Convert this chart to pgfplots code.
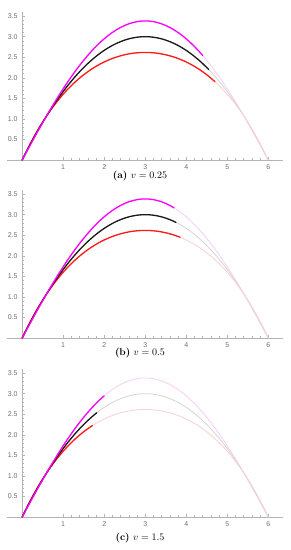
\documentclass[border=0pt]{standalone}
\usepackage{fontspec}
\usepackage{pgfplots}
\pgfplotsset{compat=1.18}
\usepackage{pgfplotstable}
\newfontfamily\ticksf{Liberation Sans}
\definecolor{axgray}{HTML}{B4B4B4}
\definecolor{labgray}{HTML}{707070}
\definecolor{cmag}{HTML}{FF00FF}
\definecolor{cred}{HTML}{FF1A1A}
\definecolor{cblk}{HTML}{1A1A1A}
\definecolor{fmag}{HTML}{F8CCF8}
\definecolor{fred}{HTML}{FAD0D0}
\definecolor{fblk}{HTML}{D4D4D4}

\pgfplotstableread{
x b m r
0.0 0 0 0
0.1 0.197 0.185 0.208
0.2 0.387 0.369 0.404
0.3 0.570 0.552 0.588
0.4 0.747 0.731 0.762
0.5 0.917 0.908 0.925
0.6 1.080 1.081 1.079
0.7 1.237 1.251 1.222
0.8 1.387 1.416 1.357
0.9 1.530 1.577 1.483
1.0 1.667 1.733 1.600
1.1 1.797 1.884 1.710
1.2 1.920 2.029 1.811
1.3 2.037 2.168 1.906
1.4 2.147 2.300 1.993
1.5 2.250 2.426 2.074
1.6 2.347 2.545 2.148
1.7 2.437 2.657 2.216
1.8 2.520 2.762 2.278
1.9 2.597 2.859 2.334
2.0 2.667 2.949 2.385
2.1 2.730 3.030 2.430
2.2 2.787 3.103 2.470
2.3 2.837 3.168 2.505
2.4 2.880 3.225 2.535
2.5 2.917 3.273 2.560
2.6 2.947 3.313 2.581
2.7 2.970 3.343 2.597
2.8 2.987 3.366 2.608
2.9 2.997 3.379 2.615
3.0 3.000 3.383 2.617
3.1 2.997 3.379 2.615
3.2 2.987 3.366 2.608
3.3 2.970 3.343 2.597
3.4 2.947 3.313 2.581
3.5 2.917 3.273 2.560
3.6 2.880 3.225 2.535
3.7 2.837 3.168 2.505
3.8 2.787 3.103 2.470
3.9 2.730 3.030 2.430
4.0 2.667 2.949 2.385
4.1 2.597 2.859 2.334
4.2 2.520 2.762 2.278
4.3 2.437 2.657 2.216
4.4 2.347 2.545 2.148
4.5 2.250 2.426 2.074
4.6 2.147 2.300 1.993
4.7 2.037 2.168 1.906
4.8 1.920 2.029 1.811
4.9 1.797 1.884 1.710
5.0 1.667 1.733 1.600
5.1 1.530 1.577 1.483
5.2 1.387 1.416 1.357
5.3 1.237 1.251 1.222
5.4 1.080 1.081 1.079
5.5 0.917 0.908 0.925
5.6 0.747 0.731 0.762
5.7 0.570 0.552 0.588
5.8 0.387 0.369 0.404
5.9 0.197 0.185 0.208
6.0 0 0 0
}\traj

\pgfplotsset{
  panel/.style={
    scale only axis, width=276pt, height=148pt,
    xmin=-0.37, xmax=6.36, ymin=0, ymax=3.6,
    axis x line=middle, axis y line=middle,
    axis line style={draw=axgray, line width=0.5pt, -},
    xtick={1,2,3,4,5,6}, ytick={0.5,1,1.5,2,2.5,3,3.5},
    minor x tick num=4, minor y tick num=4,
    tick align=inside,
    major tick length=3pt, minor tick length=1.6pt,
    every tick/.style={draw=axgray, line width=0.4pt},
    every minor tick/.style={draw=axgray, line width=0.35pt},
    ticklabel style={font=\ticksf\fontsize{7}{8}\selectfont, text=labgray},
    /pgf/number format/assume math mode=true,
    y tick label style={/pgf/number format/fixed, /pgf/number format/fixed zerofill, /pgf/number format/precision=1},
    xticklabel style={yshift=-1pt},
    yticklabel style={xshift=-1pt},
    clip=false,
  },
  fadedline/.style={line width=0.8pt, line join=round},
  solidline/.style={line width=1.3pt, line join=round, line cap=round},
}

\begin{document}
\begin{tikzpicture}
\path (0pt,0pt) rectangle (291pt,-550pt);

% (a)
\begin{axis}[panel, at={(7pt,-160pt)}, anchor=south west]
\addplot[fadedline, fmag] table[x=x, y=m] {\traj};
\addplot[fadedline, fblk] table[x=x, y=b] {\traj};
\addplot[fadedline, fred] table[x=x, y=r] {\traj};
\addplot[solidline, cred, restrict x to domain=0:4.75] table[x=x, y=r] {\traj};
\addplot[solidline, cblk, restrict x to domain=0:4.55] table[x=x, y=b] {\traj};
\addplot[solidline, cblk] coordinates {(4.5,2.250) (4.55,2.199)};
\addplot[solidline, cmag, restrict x to domain=0:4.45] table[x=x, y=m] {\traj};
\end{axis}
\node[font=\fontsize{10}{12}\selectfont] at (140pt,-176pt) {\textbf{(a)} $v=0.25$};

% (b)
\begin{axis}[panel, at={(7pt,-338pt)}, anchor=south west]
\addplot[fadedline, fmag] table[x=x, y=m] {\traj};
\addplot[fadedline, fblk] table[x=x, y=b] {\traj};
\addplot[fadedline, fred] table[x=x, y=r] {\traj};
\addplot[solidline, cred, restrict x to domain=0:3.85] table[x=x, y=r] {\traj};
\addplot[solidline, cred] coordinates {(3.8,2.470) (3.85,2.451)};
\addplot[solidline, cblk, restrict x to domain=0:3.75] table[x=x, y=b] {\traj};
\addplot[solidline, cblk] coordinates {(3.7,2.837) (3.75,2.8125)};
\addplot[solidline, cmag, restrict x to domain=0:3.75] table[x=x, y=m] {\traj};
\end{axis}
\node[font=\fontsize{10}{12}\selectfont] at (140pt,-353pt) {\textbf{(b)} $v=0.5$};

% (c)
\begin{axis}[panel, at={(7pt,-517pt)}, anchor=south west]
\addplot[fadedline, fmag] table[x=x, y=m] {\traj};
\addplot[fadedline, fblk] table[x=x, y=b] {\traj};
\addplot[fadedline, fred] table[x=x, y=r] {\traj};
\addplot[solidline, cred, restrict x to domain=0:1.75] table[x=x, y=r] {\traj};
\addplot[solidline, cred] coordinates {(1.7,2.216) (1.71,2.222)};
\addplot[solidline, cblk, restrict x to domain=0:1.85] table[x=x, y=b] {\traj};
\addplot[solidline, cblk] coordinates {(1.8,2.520) (1.82,2.536)};
\addplot[solidline, cmag, restrict x to domain=0:2.05] table[x=x, y=m] {\traj};
\end{axis}
\node[font=\fontsize{10}{12}\selectfont] at (140pt,-538pt) {\textbf{(c)} $v=1.5$};
\end{tikzpicture}
\end{document}
